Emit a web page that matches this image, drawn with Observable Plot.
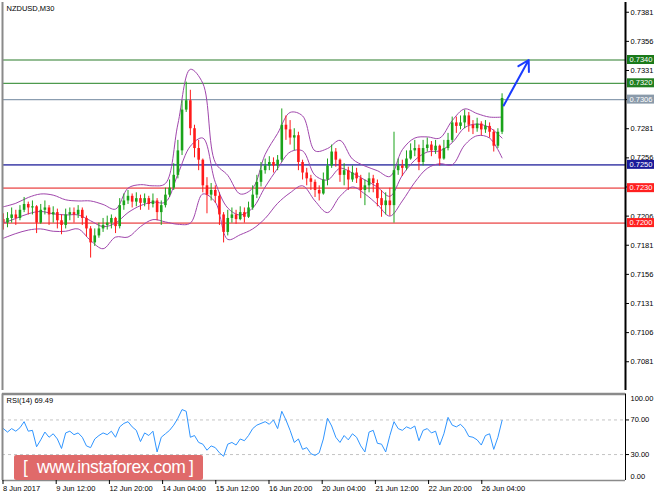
<!DOCTYPE html>
<html><head><meta charset="utf-8">
<script src="https://cdn.jsdelivr.net/npm/d3@7"></script>
<script src="https://cdn.jsdelivr.net/npm/@observablehq/plot@0.6"></script>
<style>
body{margin:0;background:#fff;}
#wrap{position:relative;width:664px;height:498px;overflow:hidden;background:#fff;}
#main{position:absolute;left:0;top:0;}
#rsi{position:absolute;left:0;top:392px;}
#wm{position:absolute;left:14px;top:455px;width:189px;height:25px;background:#e06a6a;border-radius:2px;color:#fff;
font-family:"Liberation Sans",Arial,sans-serif;font-size:17.5px;letter-spacing:-0.4px;line-height:25px;white-space:nowrap;}
#wm span{position:absolute;top:0;}
</style></head>
<body><div id="wrap"><div id="main"></div><div id="rsi"></div>
<div id="wm"><span style="left:9px">[</span><span style="left:23px">www.instaforex.com</span><span style="left:175px">]</span></div></div>
<script>
// ---------- data (prices in pips = 0.0001) ----------
const symbol = "NZDUSD,M30";
const firstOpenPips = 7203;
const closePips = [7200,7204,7207,7204,7211,7216,7213,7214,7200,7211,
 7213,7207,7209,7202,7198,7207,7209,7207,7211,7204,
 7195,7183,7189,7195,7198,7200,7204,7197,7215,7219,
 7223,7218,7221,7217,7221,7216,7219,7209,7215,7224,
 7230,7241,7262,7297,7305,7281,7264,7254,7232,7224,
 7228,7223,7207,7192,7204,7207,7203,7209,7205,7213,
 7224,7235,7245,7249,7252,7249,7254,7284,7280,7273,
 7275,7252,7243,7238,7235,7228,7225,7237,7249,7261,
 7254,7241,7245,7237,7243,7238,7228,7232,7238,7234,
 7221,7215,7219,7215,7245,7249,7247,7255,7262,7264,
 7252,7264,7267,7262,7266,7255,7264,7271,7286,7283,
 7286,7292,7284,7281,7285,7280,7283,7278,7266,7278,
 7307];
const highPips = [7208,7209,7213,7211,7215,7222,7218,7219,7215,7216,
 7219,7215,7214,7212,7207,7212,7213,7213,7215,7213,
 7206,7197,7195,7200,7204,7206,7207,7205,7221,7225,
 7228,7225,7226,7224,7225,7223,7225,7221,7219,7230,
 7237,7251,7271,7305,7321,7314,7284,7271,7255,7239,
 7234,7232,7226,7209,7211,7213,7211,7214,7213,7218,
 7232,7241,7252,7255,7257,7256,7258,7298,7292,7288,
 7281,7278,7254,7247,7241,7237,7232,7243,7255,7267,
 7264,7255,7251,7248,7249,7247,7241,7237,7243,7241,
 7237,7228,7226,7230,7278,7255,7254,7262,7268,7271,
 7267,7271,7273,7270,7271,7267,7271,7277,7291,7291,
 7292,7297,7295,7288,7290,7287,7288,7286,7280,7281,
 7311];
const lowPips = [7194,7196,7200,7198,7202,7209,7207,7207,7191,7199,
 7207,7198,7200,7195,7190,7195,7202,7200,7204,7198,
 7188,7170,7180,7187,7192,7194,7195,7191,7195,7211,
 7216,7213,7214,7211,7214,7211,7213,7202,7198,7213,
 7222,7228,7238,7258,7295,7275,7256,7245,7226,7208,
 7219,7217,7198,7183,7189,7200,7199,7202,7200,7204,
 7211,7221,7231,7242,7245,7243,7245,7252,7271,7267,
 7262,7245,7237,7232,7228,7222,7219,7224,7232,7247,
 7248,7235,7232,7228,7235,7234,7221,7215,7226,7226,
 7214,7205,7207,7206,7200,7241,7240,7245,7254,7257,
 7245,7249,7261,7257,7259,7249,7254,7262,7269,7277,
 7280,7281,7278,7276,7278,7275,7277,7273,7261,7264,
 7276];
// Bollinger bands (20, 2) read every 3rd candle
const bandUpperPips = [7214,7217,7222,7225,7224,7220,7219,7219,7216,7212,7230,7233,7232,7234,7285,7332,7320,7252,7241,7225,7230,7259,7277,7295,7292,7262,7264,7271,7255,7249,7245,7240,7263,7273,7274,7273,7288,7298,7294,7291,7291];
const bandMiddlePips = [7200,7204,7208,7210,7208,7207,7207,7202,7197,7200,7209,7215,7218,7218,7242,7266,7273,7235,7213,7207,7213,7231,7247,7261,7262,7241,7237,7247,7243,7237,7231,7223,7241,7254,7261,7262,7269,7282,7285,7282,7273];
const bandLowerPips = [7187,7191,7194,7195,7193,7193,7195,7185,7178,7188,7188,7197,7203,7201,7199,7200,7225,7218,7186,7190,7195,7204,7217,7226,7232,7219,7209,7223,7231,7225,7216,7206,7219,7235,7247,7251,7250,7267,7275,7273,7256];
const rsiValues = [60,56,60,57,61,68,57,58,39,47,
 56,50,54,48,37,55,57,53,55,50,
 40,38,48,52,55,53,57,50,62,66,
 68,62,58,45,55,52,57,33,50,54,
 58,64,72,82,80,50,52,44,42,35,
 40,38,32,28,42,44,41,48,46,52,
 60,64,66,68,65,70,60,80,70,58,
 44,48,36,38,31,29,32,48,72,63,
 50,44,52,47,54,50,40,33,56,58,
 43,42,33,52,68,60,58,62,60,63,
 46,58,60,55,57,41,54,73,64,62,
 65,60,51,50,47,41,52,54,36,50,
 69.49];
const levels = [0.7340, 0.7320, 0.7306, 0.7250, 0.7230, 0.7200];
const priceTicks = [0.7381,0.7356,0.7331,0.7306,0.7281,0.7256,0.7231,0.7206,0.7181,0.7156,0.7131,0.7106,0.7081];
const dateLabels = ["8 Jun 2017","9 Jun 12:00","12 Jun 20:00","14 Jun 04:00","15 Jun 12:00","16 Jun 20:00","20 Jun 04:00","21 Jun 12:00","22 Jun 20:00","26 Jun 04:00"];
const rsiLevels = [70, 30];
const arrowFrom = {bar: 603, pips: 7301};
const arrowTo = {bar: 633, pips: 7340};

// ---------- derived tables ----------
const pip = 1e-4;
const barsPerCandle = 5, barsPerBand = 15, barsPerLabel = 64;
const candles = closePips.map((c, i) => ({
  bar: barsPerCandle * i + 1,
  open: (i ? closePips[i - 1] : firstOpenPips) * pip,
  close: c * pip, high: highPips[i] * pip, low: lowPips[i] * pip
}));
const up = candles.filter(d => d.close >= d.open);
const down = candles.filter(d => d.close < d.open);
const bands = bandMiddlePips.map((m, k) => ({bar: barsPerBand * k + 1, u: bandUpperPips[k] * pip, m: m * pip, l: bandLowerPips[k] * pip}));
const rsi = rsiValues.map((v, i) => ({bar: barsPerCandle * i + 1, v}));
const dateTicks = dateLabels.map((_, i) => i * barsPerLabel);
const xMax = 749.5;

const FONT = "Liberation Sans, Arial, sans-serif";
const levelLine = ["#2a7d2a", "#4e9a4e", "#8b9db0", "#5858b4", "#f07878", "#f07878"];
const levelBox = ["#1a7a1a", "#207f20", "#8a9aaa", "#1a1a9a", "#ff2020", "#ff2020"];
const bandColor = "#a046ac";
const upColor = "#1aa31a", downColor = "#ff1a1a";
const fmt4 = d3.format(".4f");

function levelBoxes(index, scales, values, dims) {
  const g = d3.create("svg:g").attr("font-family", FONT).attr("font-size", 7.5).attr("text-anchor", "start");
  const x0 = dims.width - dims.marginRight + 2;
  levels.forEach((v, k) => {
    const y = scales.y(v);
    g.append("rect").attr("x", x0).attr("y", y - 4.5).attr("width", 27).attr("height", 9).attr("fill", levelBox[k]);
    g.append("text").attr("x", x0 + 2.5).attr("y", y).attr("dy", "0.35em").attr("text-anchor", "start").attr("fill", "#fff").text(fmt4(v));
  });
  return g.node();
}

const main = Plot.plot({
  width: 664, height: 392, marginLeft: 2, marginRight: 39, marginTop: 2, marginBottom: 2,
  style: {fontFamily: FONT, fontSize: "7.5px", background: "#fff", color: "#000"},
  x: {domain: [0, xMax], axis: null},
  y: {domain: [0.705631, 0.738936], axis: null},
  marks: [
    ...levels.map((v, k) => Plot.ruleY([v], {stroke: levelLine[k], strokeWidth: k >= 3 ? 1.6 : 1.2})),
    Plot.line(bands, {x: "bar", y: "u", stroke: bandColor, strokeWidth: 1, curve: "catmull-rom"}),
    Plot.line(bands, {x: "bar", y: "m", stroke: bandColor, strokeWidth: 1, curve: "catmull-rom"}),
    Plot.line(bands, {x: "bar", y: "l", stroke: bandColor, strokeWidth: 1, curve: "catmull-rom"}),
    Plot.ruleX(up, {x: "bar", y1: "low", y2: "high", stroke: upColor, strokeWidth: 1}),
    Plot.ruleX(down, {x: "bar", y1: "low", y2: "high", stroke: downColor, strokeWidth: 1}),
    Plot.ruleX(up, {x: "bar", y1: "open", y2: "close", stroke: upColor, strokeWidth: 2.6}),
    Plot.ruleX(down, {x: "bar", y1: "open", y2: "close", stroke: downColor, strokeWidth: 2.6}),
    Plot.arrow([0], {x1: () => arrowFrom.bar, y1: () => arrowFrom.pips * pip, x2: () => arrowTo.bar, y2: () => arrowTo.pips * pip,
      stroke: "#1a3cff", strokeWidth: 2, headLength: 9, bend: 0}),
    Plot.ruleX([0], {stroke: "#8a8a8a", strokeWidth: 2}),
    Plot.ruleX([xMax], {stroke: "#000", strokeWidth: 2}),
    Plot.axisY(priceTicks, {anchor: "right", label: null, tickSize: 3, tickPadding: 2, tickFormat: fmt4, fontSize: 7.5, fill: "#000"}),
    levelBoxes,
    Plot.text([symbol], {frameAnchor: "top-left", dx: 4, dy: 3, lineAnchor: "top", textAnchor: "start", fontSize: 7.5, fill: "#000"})
  ]
});
document.getElementById("main").append(main);

const rsiPlot = Plot.plot({
  width: 664, height: 106, marginLeft: 2, marginRight: 39, marginTop: 1.5, marginBottom: 18,
  style: {fontFamily: FONT, fontSize: "7.5px", background: "#fff", color: "#000"},
  x: {domain: [0, xMax], axis: null},
  y: {domain: [0, 100], axis: null},
  marks: [
    Plot.ruleY(rsiLevels, {stroke: "#c4c4c4", strokeDasharray: "3,3"}),
    Plot.line(rsi, {x: "bar", y: "v", stroke: "#2f95ff", strokeWidth: 1}),
    Plot.ruleY([100], {stroke: "#8a8a8a", strokeWidth: 2.5}),
    Plot.ruleY([0], {stroke: "#8a8a8a", strokeWidth: 1.5}),
    Plot.ruleX([0], {stroke: "#8a8a8a", strokeWidth: 2}),
    Plot.ruleX([xMax], {stroke: "#000", strokeWidth: 1}),
    Plot.axisY(rsiLevels, {anchor: "right", label: null, tickSize: 3, tickPadding: 2, tickFormat: d3.format(".2f"), fontSize: 7.5, fill: "#000"}),
    Plot.text([100], {x: xMax, y: d => d, text: d => d3.format(".2f")(d), dx: 5, dy: 5, textAnchor: "start", fontSize: 7.5, fill: "#000"}),
    Plot.text([0], {x: xMax, y: d => d, text: d => d3.format(".2f")(d), dx: 5, dy: -4, textAnchor: "start", fontSize: 7.5, fill: "#000"}),
    Plot.axisX(dateTicks, {anchor: "bottom", label: null, tickSize: 4, tickPadding: 1, tickFormat: d => dateLabels[d / barsPerLabel],
      textAnchor: "start", dx: 0.5, fontSize: 7.5, fill: "#000"}),
    Plot.text([`RSI(14) ${rsiValues[rsiValues.length - 1].toFixed(2)}`], {frameAnchor: "top-left", dx: 4, dy: 4, lineAnchor: "top", textAnchor: "start", fontSize: 7.5, fill: "#000"})
  ]
});
document.getElementById("rsi").append(rsiPlot);
</script>
</body></html>
